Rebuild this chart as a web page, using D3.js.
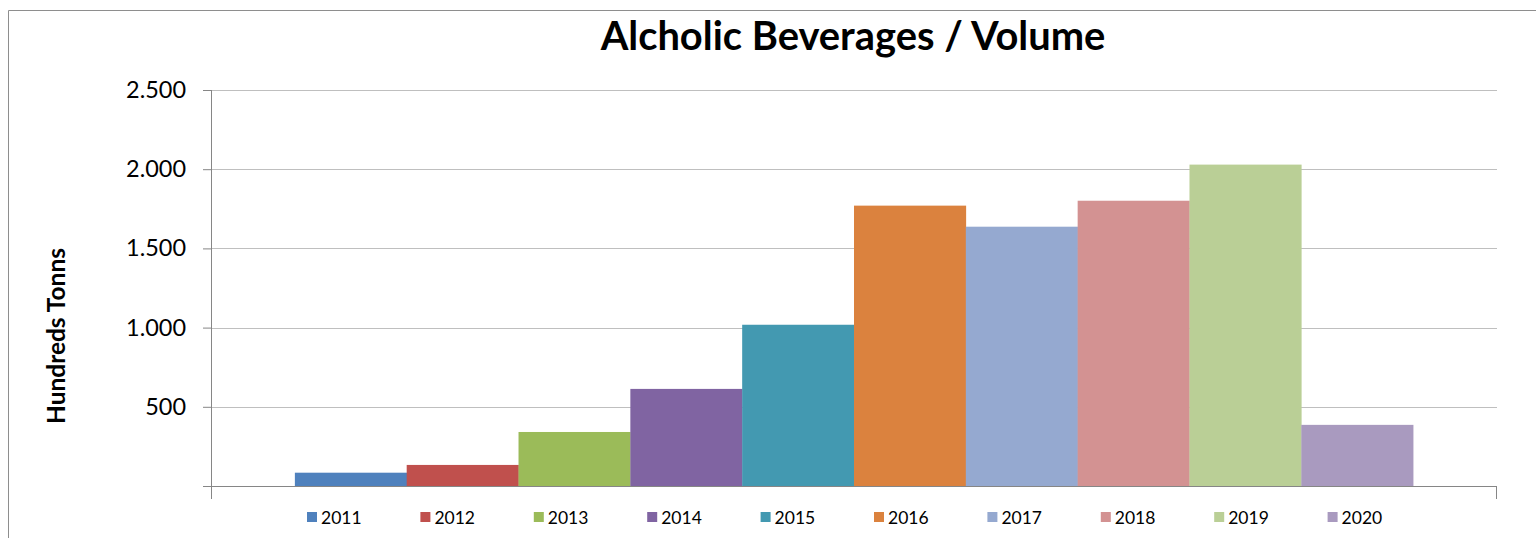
<!DOCTYPE html>
<html>
<head>
<meta charset="utf-8">
<script src="https://cdn.jsdelivr.net/npm/d3@7"></script>
<style>
  html, body { margin: 0; padding: 0; background: #fff; }
  svg { display: block; font-family: Lato, "Open Sans", sans-serif; }
</style>
</head>
<body>
<svg id="chart" width="1536" height="538"></svg>
<script>
// chart values
const years = ["2011","2012","2013","2014","2015","2016","2017","2018","2019","2020"];
const volumes = [84, 133, 341, 613, 1018, 1770, 1637, 1801, 2029, 386];
const colors = ["#4f81bd","#c0504d","#9bbb59","#8064a2","#4399b1","#db823e","#95a9d0","#d39292","#bacf96","#a99abf"];
const yTicks = [500, 1000, 1500, 2000, 2500];

const margin = { left: 211, top: 90, right: 39, bottom: 52 };
const width = 1536, height = 538;
const plotW = width - margin.left - margin.right,
      plotH = height - margin.top - margin.bottom;

const svg = d3.select("#chart");

// fit a text element's font size to a measured width
function fitWidth(sel, size, target) {
    sel.style("font-size", size + "px");
    let w = sel.node().getComputedTextLength();
    sel.style("font-size", (size * target / w) + "px");
}

// outer chart border (only top and left visible in the crop)
svg.append("path")
    .attr("d", "M8.5,538 V10.5 H1536")
    .attr("fill", "none")
    .attr("stroke", "#8e8e8e")
    .attr("stroke-width", 1);

const g = svg.append("g")
    .attr("transform", "translate(" + margin.left + "," + margin.top + ")");

let y = d3.scaleLinear().domain([0, 2500]).range([plotH, 0]);

// one category, gap width 150% -> outer padding
let xCat = d3.scaleBand().domain(["Volume"]).range([0, plotW]).paddingInner(0).paddingOuter(0.075);
let x = d3.scaleBand().domain(years).range([xCat("Volume"), xCat("Volume") + xCat.bandwidth()]).padding(0);

// gridlines
g.append("g")
    .selectAll("line")
    .data(yTicks)
    .enter().append("line")
    .attr("x1", 0)
    .attr("x2", plotW)
    .attr("y1", d => Math.round(y(d)) + 0.5)
    .attr("y2", d => Math.round(y(d)) + 0.5)
    .attr("stroke", "#bfbfbf")
    .attr("stroke-width", 1.2);

// bars
g.selectAll(".bar")
    .data(years)
    .enter().append("rect")
    .attr("class", "bar")
    .attr("x", d => x(d))
    .attr("width", x.bandwidth() + 0.3)
    .attr("y", (d, i) => y(volumes[i]))
    .attr("height", (d, i) => plotH - y(volumes[i]))
    .attr("fill", (d, i) => colors[i]);

// left axis
const yAxis = g.append("g")
    .call(d3.axisLeft(y).tickValues([0].concat(yTicks)).tickSize(8).tickPadding(17)
        .tickFormat(d => d === 0 ? "" : d3.format(",")(d).replace(/,/g, ".")));
yAxis.select(".domain").remove();
yAxis.selectAll(".tick line").attr("stroke", "#868686");
const tickText = yAxis.selectAll("text")
    .attr("fill", "#000")
    .style("font-family", "Lato, sans-serif");
fitWidth(yAxis.selectAll("text").filter(d => d === 2500), 21, 60);
tickText.style("font-size", yAxis.selectAll("text").filter(d => d === 2500).style("font-size"));

g.append("line")
    .attr("x1", 0.5).attr("x2", 0.5)
    .attr("y1", 0).attr("y2", plotH + 13)
    .attr("stroke", "#868686");

// bottom axis (category axis: ticks only at both ends)
g.append("line")
    .attr("x1", -8).attr("x2", plotW)
    .attr("y1", plotH + 0.5).attr("y2", plotH + 0.5)
    .attr("stroke", "#868686");
g.append("line")
    .attr("x1", plotW - 0.5).attr("x2", plotW - 0.5)
    .attr("y1", plotH).attr("y2", plotH + 13)
    .attr("stroke", "#868686");

// title
const title = svg.append("text")
    .attr("x", 853)
    .attr("y", 50)
    .attr("text-anchor", "middle")
    .style("font-weight", "bold")
    .attr("fill", "#000")
    .text("Alcholic Beverages / Volume");
fitWidth(title, 36, 505);

// y axis title
const yTitle = svg.append("text")
    .attr("transform", "translate(65,336) rotate(-90)")
    .attr("text-anchor", "middle")
    .style("font-weight", "bold")
    .attr("fill", "#000")
    .text("Hundreds Tonns");
fitWidth(yTitle, 19, 176);

// legend
const legend = svg.append("g")
    .attr("transform", "translate(307,512)");
const item = legend.selectAll(".item")
    .data(years)
    .enter().append("g")
    .attr("class", "item")
    .attr("transform", (d, i) => "translate(" + (i * 113.4) + ",0)");
item.append("rect")
    .attr("width", 10)
    .attr("height", 10)
    .attr("fill", (d, i) => colors[i]);
item.append("text")
    .attr("x", 14)
    .attr("y", 12)
    .style("font-size", "17.5px")
    .attr("fill", "#000")
    .text(d => d);
</script>
</body>
</html>
